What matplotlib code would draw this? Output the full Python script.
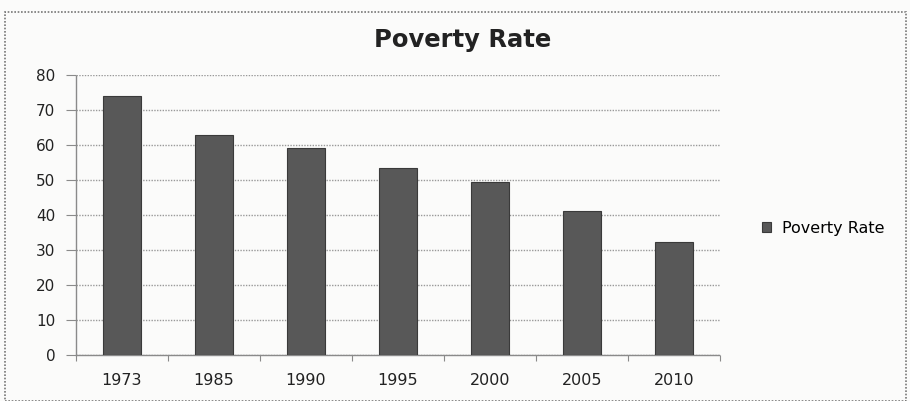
import numpy as np
import matplotlib
matplotlib.use("Agg")
import matplotlib.pyplot as plt
import matplotlib.patches as mpatches

years = ["1973", "1985", "1990", "1995", "2000", "2005", "2010"]
poverty_rate = [74.0, 62.8, 59.0, 53.4, 49.3, 41.0, 32.3]
series_name = "Poverty Rate"
y_ticks = [0, 10, 20, 30, 40, 50, 60, 70, 80]

plt.rcParams["font.family"] = ["DejaVu Sans"]

fig = plt.figure(figsize=(9.1, 4.01), dpi=100)
fig.patch.set_facecolor("#fbfbfa")
ax = fig.add_axes([0.0835, 0.1147, 0.7075, 0.699])
ax.set_facecolor("#fbfbfa")

# chart-area border
fig.add_artist(mpatches.Rectangle((0.006, 0.0), 0.99, 0.97, transform=fig.transFigure,
                                  fill=False, edgecolor="#777777", linewidth=1.2,
                                  linestyle=(0, (1, 1))))

x = np.arange(len(years))
ax.bar(x, poverty_rate, width=0.42, color="#585858", edgecolor="#3a3a3a",
       linewidth=0.8, label=series_name, zorder=3)

ax.set_xlim(-0.5, len(years) - 0.5)
ax.set_ylim(0, 80)
ax.set_yticks(y_ticks)
ax.set_xticks(x)
ax.set_xticklabels(years)
ax.set_xticks(np.arange(-0.5, len(years)), minor=True)

ax.yaxis.grid(True, color="#999999", linewidth=1.0, linestyle=(0, (1, 1)), zorder=0)
ax.tick_params(axis="y", length=7, width=0.8, color="#8a8a8a", pad=8,
               labelsize=11, labelcolor="#222222")
ax.tick_params(axis="x", which="major", length=0, pad=13,
               labelsize=11.5, labelcolor="#222222")
ax.tick_params(axis="x", which="minor", length=4, width=0.8, color="#8a8a8a")

for side in ["top", "right"]:
    ax.spines[side].set_visible(False)
for side in ["left", "bottom"]:
    ax.spines[side].set_color("#8a8a8a")
    ax.spines[side].set_linewidth(1.0)
    ax.spines[side].set_linestyle((0, (1, 1)))

fig.text(0.508, 0.9, "Poverty Rate", ha="center", va="center",
         fontsize=17.5, fontweight="bold", color="#222222")

ax.legend(loc="center left", bbox_to_anchor=(0.822, 0.431),
          bbox_transform=fig.transFigure, frameon=False,
          handlelength=0.55, handleheight=0.55, handletextpad=0.7,
          prop={"size": 11.5})

fig.savefig("out.png", dpi=100, facecolor=fig.get_facecolor())
